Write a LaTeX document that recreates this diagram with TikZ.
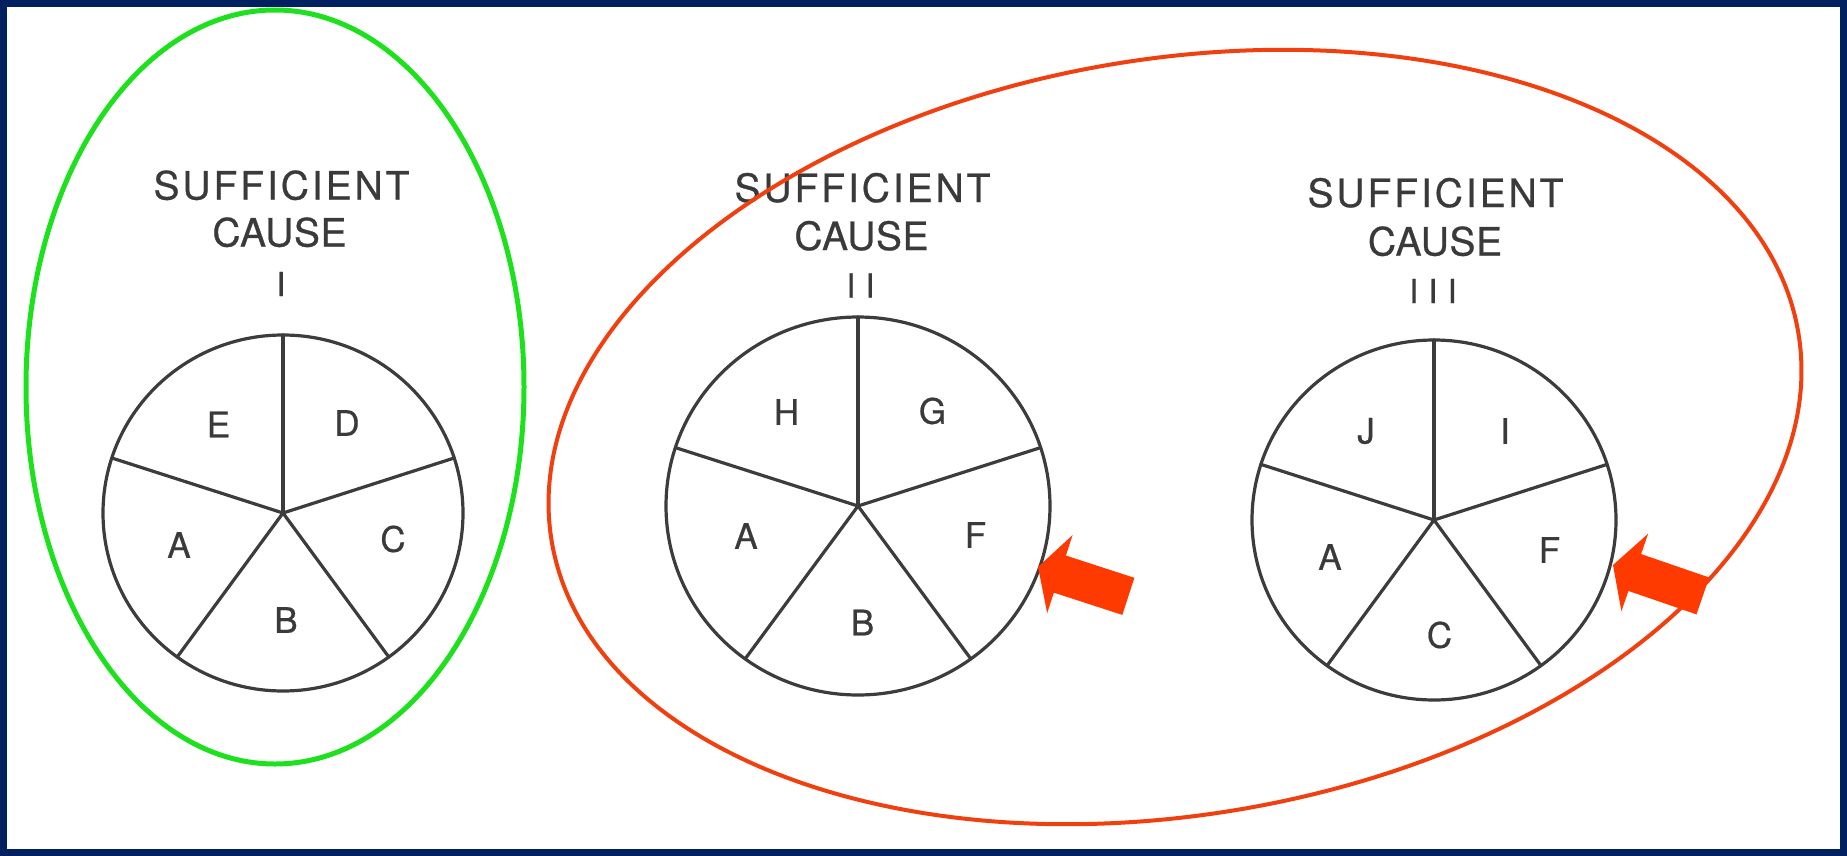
\documentclass[tikz,border=0pt]{standalone}
\usepackage{fontspec}
\setmainfont{TeX Gyre Heros}[FakeBold=0.6]
\newfontfamily\ttlfont[LetterSpace=7.5,FakeBold=0.6]{TeX Gyre Heros}
\newfontfamily\causefont[LetterSpace=1.5,FakeBold=0.6]{TeX Gyre Heros}
\definecolor{frameblue}{HTML}{002060}
\definecolor{greenc}{HTML}{1EE11E}
\definecolor{redc}{HTML}{F0400F}
\definecolor{arrred}{HTML}{FF3A00}
\definecolor{pieg}{HTML}{3C3C3C}
\definecolor{txtg}{HTML}{3A3A3A}
\begin{document}
\begin{tikzpicture}[x=1pt,y=1pt,
  pieline/.style={line width=3.2pt, draw=pieg, line cap=round},
  lbl/.style={font=\fontsize{35}{40}\selectfont, text=txtg, inner sep=0pt},
  ttl/.style={font=\ttlfont\fontsize{39}{44}\selectfont, text=txtg, inner sep=0pt, anchor=base},
  cse/.style={font=\causefont\fontsize{39}{44}\selectfont, text=txtg, inner sep=0pt, anchor=base},
  num/.style={font=\fontsize{33}{38}\selectfont, text=txtg, inner sep=0pt, anchor=base},
  fatarrow/.style={fill=arrred, draw=none}]
% frame
\fill[frameblue] (0,0) rectangle (1847,-856);
\fill[white] (7,-7) rectangle (1840,-849);
\useasboundingbox (0,0) rectangle (1847,-856);

% titles
\node[ttl] (t1a) at (281.5,-199.5) {SUFFICIENT};
\node[cse] (t1b) at (279.5,-246.5) {CAUSE};
\node[num] (t1c) at (281,-296) {I};
\node[ttl] (t2a) at (862.5,-202) {SUFFICIENT};
\node[cse] (t2b) at (861.5,-250) {CAUSE};
\node[num] (t2c) at (860.5,-297.5) {I\kern10pt I};
\node[ttl] (t3a) at (1435.5,-207) {SUFFICIENT};
\node[cse] (t3b) at (1435,-255.5) {CAUSE};
\node[num] (t3c) at (1433,-303) {I\kern10pt I\kern10pt I};

% pie I
\coordinate (c1) at (283,-513);
\draw[pieline] (c1) ellipse [x radius=180, y radius=178];
\foreach \a in {90,18,-54,-126,162}
  \draw[pieline, shift={(c1)}] (0,0) -- ({180*cos(\a)},{178*sin(\a)});
\node[lbl] (p1E) at (218.5,-424.5) {E};
\node[lbl] (p1D) at (347,-423) {D};
\node[lbl] (p1A) at (179,-545) {A};
\node[lbl] (p1C) at (393,-539) {C};
\node[lbl] (p1B) at (286,-620) {B};

% pie II
\coordinate (c2) at (858,-506);
\draw[pieline] (c2) ellipse [x radius=192, y radius=189];
\foreach \a in {90,18,-54,-126,162}
  \draw[pieline, shift={(c2)}] (0,0) -- ({192*cos(\a)},{189*sin(\a)});
\node[lbl] (p2H) at (786.5,-412) {H};
\node[lbl] (p2G) at (932.5,-411) {G};
\node[lbl] (p2A) at (746,-536) {A};
\node[lbl] (p2F) at (975.5,-535) {F};
\node[lbl] (p2B) at (862.5,-622.5) {B};

% pie III
\coordinate (c3) at (1434,-520);
\draw[pieline] (c3) ellipse [x radius=182, y radius=180];
\foreach \a in {90,18,-54,-126,162}
  \draw[pieline, shift={(c3)}] (0,0) -- ({182*cos(\a)},{180*sin(\a)});
\node[lbl] (p3J) at (1366,-431) {J};
\node[lbl] (p3I) at (1505,-431) {I};
\node[lbl] (p3A) at (1330,-557) {A};
\node[lbl] (p3F) at (1549.5,-550) {F};
\node[lbl] (p3C) at (1439.5,-635) {C};

% green ellipse
\draw[greenc, line width=5pt] (275,-387) ellipse [x radius=249, y radius=377];
% red ellipse
\draw[redc, line width=4pt, shift={(1175,-437)}, rotate=9.5] (0,0) ellipse [x radius=632, y radius=378];

% fat arrows
\coordinate (tip1) at (1038,-567);
\coordinate (tip2) at (1613,-565);
\fill[fatarrow, shift={(tip1)}, rotate=162]
  (0,0) -- (-23,41) -- (-23,19.5) -- (-95,19.5) -- (-95,-19.5) -- (-23,-19.5) -- (-23,-41) -- cycle;
\fill[fatarrow, shift={(tip2)}, rotate=161]
  (0,0) -- (-23,41) -- (-23,19.5) -- (-95,19.5) -- (-95,-19.5) -- (-23,-19.5) -- (-23,-41) -- cycle;
\end{tikzpicture}
\end{document}
